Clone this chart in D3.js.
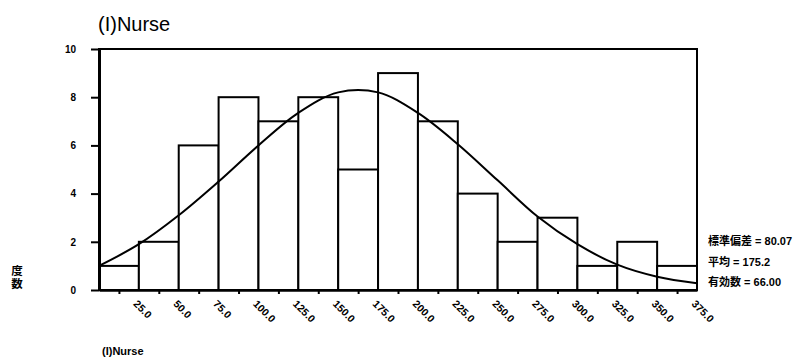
<!DOCTYPE html>
<html>
<head>
<meta charset="utf-8">
<script src="https://cdn.jsdelivr.net/npm/d3@7"></script>
<style>
  body { margin: 0; background: #fff; }
</style>
</head>
<body>
<div id="chart"></div>
<script>
// bin midpoints (x tick labels) and counts
const binCenters = [25, 50, 75, 100, 125, 150, 175, 200, 225, 250, 275, 300, 325, 350, 375];
const counts = [1, 2, 6, 8, 7, 8, 5, 9, 7, 4, 2, 3, 1, 2, 1];
const binWidth = 25;

// fitted normal curve, heights read at the bin edges
const curveX = [12.5, 37.5, 62.5, 87.5, 112.5, 137.5, 162.5, 187.5, 212.5, 237.5, 262.5, 287.5, 312.5, 337.5, 362.5, 387.5];
const curveY = [1.0, 1.9, 3.1, 4.5, 6.0, 7.35, 8.2, 8.2, 7.35, 6.05, 4.55, 3.05, 1.9, 1.05, 0.55, 0.28];

const yTicks = [0, 2, 4, 6, 8, 10];
const statLabels = ["標準偏差 = 80.07", "平均 = 175.2", "有効数 = 66.00"];
const yTitle = ["度", "数"];

const W = 801, H = 359;
const plot = { left: 99, right: 697, top: 49, bottom: 290 };

const svg = d3.select("#chart").append("svg")
  .attr("width", W)
  .attr("height", H)
  .style("font-family", "'Liberation Sans', Arial, 'Noto Sans CJK JP', sans-serif");

const x = d3.scaleLinear()
  .domain([binCenters[0] - binWidth / 2, binCenters[binCenters.length - 1] + binWidth / 2])
  .range([plot.left, plot.right]);

const y = d3.scaleLinear()
  .domain([0, 10])
  .range([plot.bottom, plot.top]);

// title
svg.append("text")
  .attr("x", 98)
  .attr("y", 31)
  .style("font-size", "20px")
  .text("(I)Nurse");

// bars
svg.append("g")
  .selectAll("rect")
  .data(binCenters)
  .enter().append("rect")
  .attr("x", function(d) { return x(d - binWidth / 2); })
  .attr("y", function(d, i) { return y(counts[i]); })
  .attr("width", function(d) { return x(d + binWidth / 2) - x(d - binWidth / 2); })
  .attr("height", function(d, i) { return y(0) - y(counts[i]); })
  .attr("fill", "#fff")
  .attr("stroke", "#000")
  .attr("stroke-width", 2);

// frame
svg.append("rect")
  .attr("x", plot.left)
  .attr("y", plot.top)
  .attr("width", plot.right - plot.left)
  .attr("height", plot.bottom - plot.top)
  .attr("fill", "none")
  .attr("stroke", "#000")
  .attr("stroke-width", 2);

// normal curve
const line = d3.line()
  .x(function(d, i) { return x(curveX[i]); })
  .y(function(d) { return y(d); })
  .curve(d3.curveCatmullRom);

svg.append("path")
  .datum(curveY)
  .attr("d", line)
  .attr("fill", "none")
  .attr("stroke", "#000")
  .attr("stroke-width", 2);

// y axis
const yAxis = svg.append("g")
  .attr("transform", "translate(" + plot.left + ",0)")
  .call(d3.axisLeft(y).tickValues(yTicks).tickSize(8).tickSizeOuter(0).tickPadding(15).tickFormat(d3.format("d")));
yAxis.select(".domain").attr("stroke-width", 3);
yAxis.selectAll(".tick line").attr("stroke-width", 2);
yAxis.selectAll(".tick text")
  .style("font-size", "10px")
  .style("font-weight", "bold")
  .attr("fill", "#000");

// x axis
const xAxis = svg.append("g")
  .attr("transform", "translate(0," + plot.bottom + ")")
  .call(d3.axisBottom(x).tickValues(binCenters).tickSize(4).tickSizeOuter(0).tickFormat(d3.format(".1f")));
xAxis.select(".domain").attr("stroke-width", 2.5);
xAxis.selectAll(".tick line").attr("stroke-width", 2);
xAxis.selectAll(".tick text")
  .attr("y", 0)
  .attr("dy", "0.35em")
  .attr("text-anchor", "start")
  .attr("transform", "translate(16,12) rotate(45)")
  .style("font-size", "10.5px")
  .style("font-weight", "bold")
  .attr("fill", "#000");

// y axis title, stacked vertically
svg.append("g")
  .selectAll("text")
  .data(yTitle)
  .enter().append("text")
  .attr("x", 17)
  .attr("y", function(d, i) { return 275 + i * 13; })
  .attr("text-anchor", "middle")
  .style("font-size", "11.5px")
  .style("font-weight", "bold")
  .text(function(d) { return d; });

// statistics
svg.append("g")
  .selectAll("text")
  .data(statLabels)
  .enter().append("text")
  .attr("x", 708)
  .attr("y", function(d, i) { return 245 + i * 20.5; })
  .style("font-size", "11px")
  .style("font-weight", "bold")
  .text(function(d) { return d; });

// footer label
svg.append("text")
  .attr("x", 102)
  .attr("y", 355)
  .style("font-size", "11px")
  .style("font-weight", "bold")
  .text("(I)Nurse");
</script>
</body>
</html>
